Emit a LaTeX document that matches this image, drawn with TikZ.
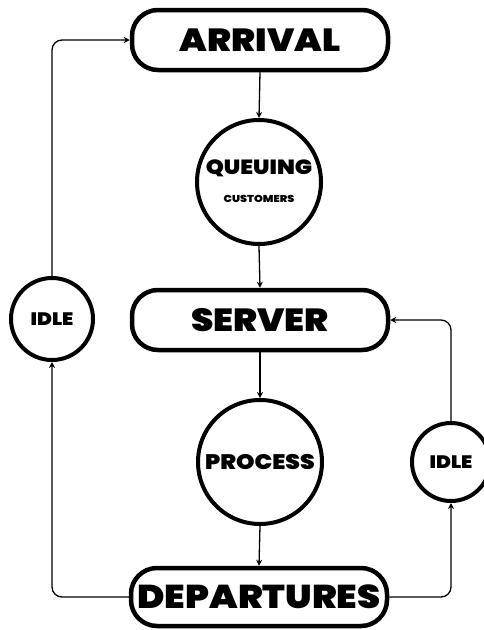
\documentclass[tikz,border=0pt]{standalone}
\usepackage{fontspec}
\setmainfont{Poppins}
\IfFontExistsTF{Poppins Black}
  {\newfontfamily\heavy{Poppins Black}[FakeStretch=1.12]}
  {\newfontfamily\heavy{Poppins}[FakeStretch=1.15, UprightFont=* Bold]}
\usetikzlibrary{arrows.meta}
\tikzset{
  box/.style={draw, line width=4.5pt, rounded corners=26pt, minimum width=256pt, minimum height=60pt, inner sep=0pt, font=\heavy\fontsize{32}{32}\selectfont},
  bigcirc/.style={circle, draw, line width=4pt, minimum size=124pt, inner sep=0pt},
  smallcirc/.style={circle, draw, line width=4pt, minimum size=78pt, inner sep=0pt, font=\heavy\fontsize{18}{18}\selectfont},
  conn/.style={line width=1.3pt, -{Stealth[length=6pt,width=6pt]}, rounded corners=10pt},
}
\begin{document}
\begin{tikzpicture}[x=1pt,y=-1pt]
\useasboundingbox (0,0) rectangle (483,630);
\node[box] (arr) at (260,40) {ARRIVAL};
\node[bigcirc] (que) at (259,182) {};
\node[font=\heavy\fontsize{20.5}{20.5}\selectfont] (quet) at (259,168) {QUEUING};
\node[font=\heavy\fontsize{10}{10}\selectfont] (cust) at (259,199) {CUSTOMERS};
\node[box] (srv) at (260,320) {SERVER};
\node[bigcirc, font=\heavy\fontsize{21}{21}\selectfont] (pro) at (260,462) {PROCESS};
\node[box, minimum height=58pt, font=\heavy\fontsize{33}{33}\selectfont] (dep) at (259,597) {DEPARTURES};
\node[smallcirc, minimum size=82pt] (idleL) at (52,319) {IDLE};
\node[smallcirc] (idleR) at (451,462) {IDLE};
\draw[conn] (arr.south) -- (que.north);
\draw[conn] (que.south) -- (srv.north);
\draw[conn] (srv.south) -- (pro.north);
\draw[conn] (pro.south) -- (dep.north);
\draw[conn] (dep.west) -| (idleL.south);
\draw[conn] (idleL.north) |- (arr.west);
\draw[conn] (dep.east) -| (idleR.south);
\draw[conn] (idleR.north) |- (srv.east);
\end{tikzpicture}
\end{document}
